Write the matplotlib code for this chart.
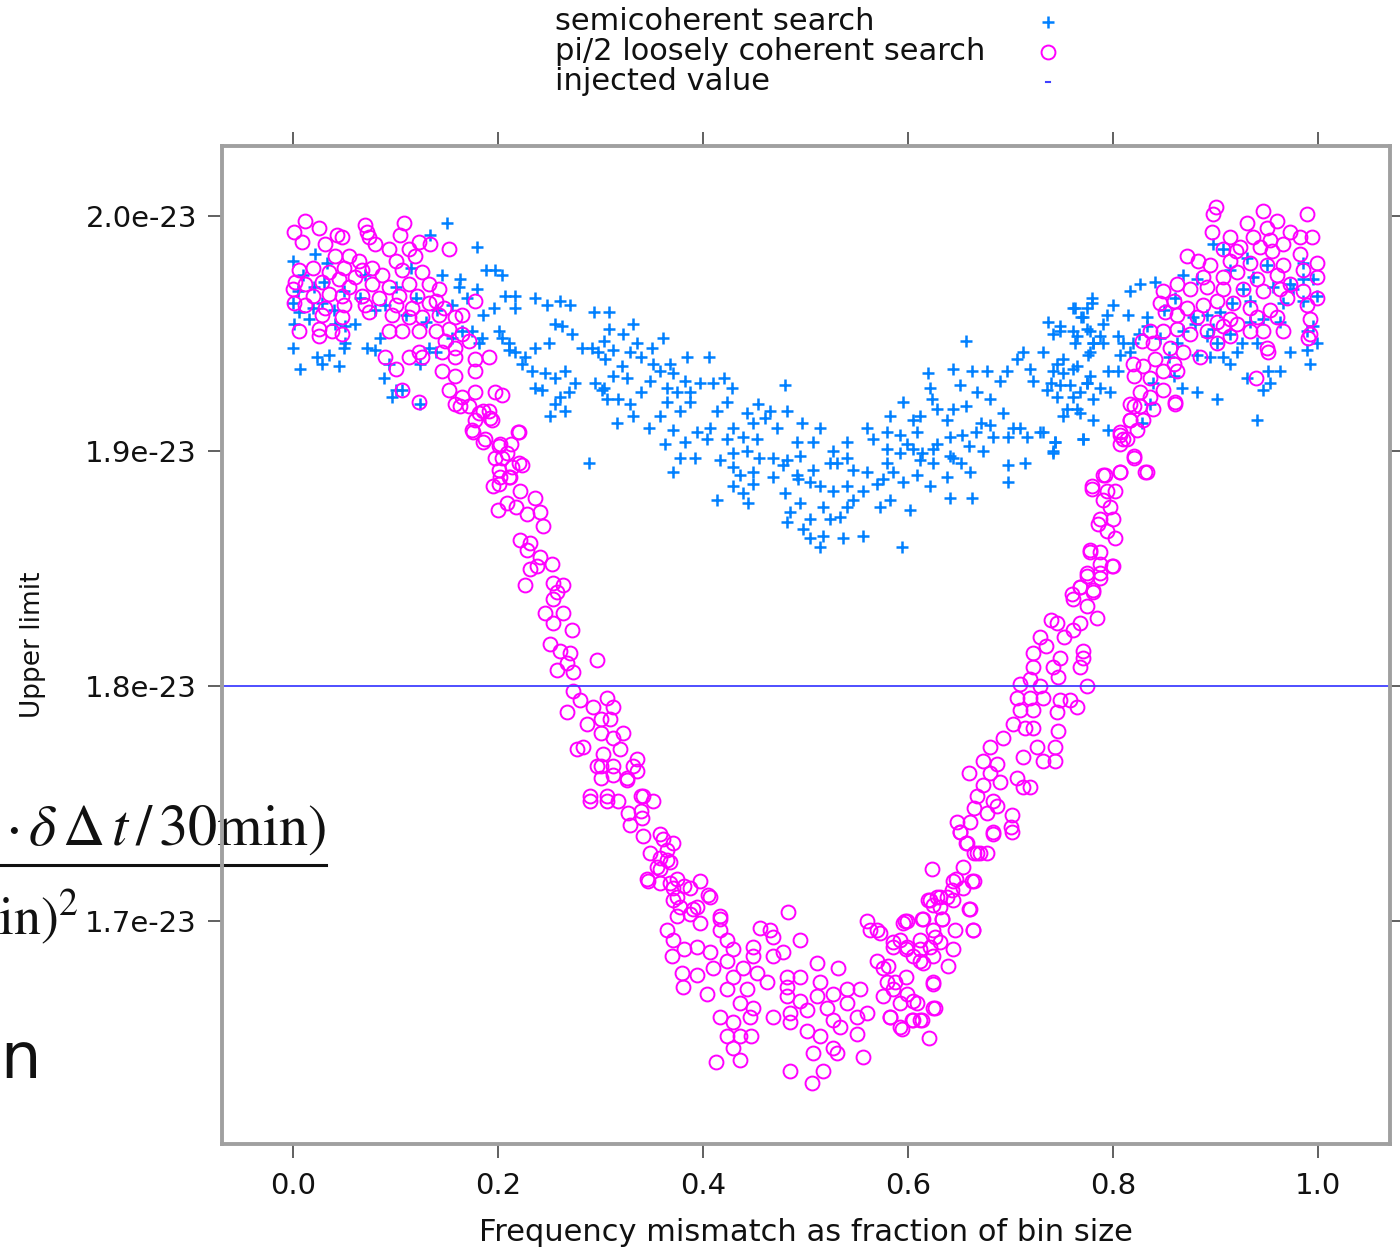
import numpy as np
import matplotlib
matplotlib.use("Agg")
import matplotlib.pyplot as plt
from matplotlib.lines import Line2D
from matplotlib.ticker import FuncFormatter

plt.rcParams['font.family'] = ['DejaVu Sans']
plt.rcParams['mathtext.fontset'] = 'stix'

# semicoherent search: x = mismatch fraction, y in units of 1e-23
semi_x = [
    0.000, 0.000, 0.001, 0.000, 0.007, 0.006, 0.016, 0.019, 0.021, 0.028,
    0.023, 0.028, 0.035, 0.045, 0.041, 0.051, 0.060, 0.051, 0.050, 0.072,
    0.080, 0.085, 0.089, 0.094, 0.100, 0.106, 0.097, 0.124, 0.124, 0.134,
    0.150, 0.010, 0.030, 0.050, 0.065, 0.080, 0.100, 0.110, 0.120, 0.140,
    0.020, 0.040, 0.070, 0.090, 0.130, 0.145, 0.005, 0.033, 0.115, 0.133,
    0.139, 0.155, 0.165, 0.175, 0.181, 0.184, 0.201, 0.204, 0.211, 0.211,
    0.179, 0.188, 0.197, 0.204, 0.163, 0.162, 0.179, 0.207, 0.217, 0.236,
    0.260, 0.270, 0.196, 0.217, 0.248, 0.294, 0.217, 0.226, 0.236, 0.250,
    0.256, 0.262, 0.272, 0.282, 0.292, 0.298, 0.223, 0.233, 0.246, 0.256,
    0.265, 0.275, 0.295, 0.301, 0.236, 0.243, 0.260, 0.269, 0.265, 0.256,
    0.251, 0.289, 0.170, 0.185, 0.155, 0.308, 0.332, 0.322, 0.308, 0.303,
    0.336, 0.361, 0.350, 0.312, 0.329, 0.339, 0.304, 0.321, 0.351, 0.368,
    0.384, 0.406, 0.358, 0.371, 0.312, 0.326, 0.348, 0.382, 0.397, 0.410,
    0.420, 0.428, 0.480, 0.303, 0.387, 0.365, 0.375, 0.339, 0.306, 0.317,
    0.365, 0.387, 0.329, 0.423, 0.454, 0.482, 0.332, 0.358, 0.378, 0.414,
    0.443, 0.465, 0.316, 0.347, 0.371, 0.394, 0.407, 0.429, 0.449, 0.460,
    0.497, 0.514, 0.423, 0.439, 0.453, 0.472, 0.492, 0.507, 0.540, 0.560,
    0.363, 0.382, 0.404, 0.378, 0.392, 0.417, 0.429, 0.443, 0.455, 0.468,
    0.482, 0.495, 0.527, 0.540, 0.531, 0.371, 0.429, 0.436, 0.449, 0.468,
    0.478, 0.492, 0.507, 0.524, 0.546, 0.560, 0.414, 0.444, 0.429, 0.439,
    0.449, 0.480, 0.493, 0.504, 0.514, 0.527, 0.540, 0.556, 0.485, 0.495,
    0.504, 0.517, 0.524, 0.534, 0.540, 0.546, 0.482, 0.498, 0.504, 0.517,
    0.537, 0.556, 0.514, 0.573, 0.582, 0.594, 0.602, 0.570, 0.576, 0.585,
    0.595, 0.609, 0.621, 0.641, 0.662, 0.612, 0.624, 0.638, 0.644, 0.652,
    0.660, 0.579, 0.592, 0.579, 0.599, 0.605, 0.614, 0.624, 0.641, 0.659,
    0.673, 0.566, 0.579, 0.592, 0.609, 0.628, 0.641, 0.653, 0.666, 0.683,
    0.698, 0.716, 0.732, 0.743, 0.741, 0.714, 0.698, 0.698, 0.771, 0.582,
    0.595, 0.605, 0.612, 0.623, 0.628, 0.638, 0.644, 0.657, 0.671, 0.680,
    0.693, 0.702, 0.709, 0.729, 0.619, 0.621, 0.644, 0.651, 0.657, 0.662,
    0.677, 0.667, 0.680, 0.690, 0.697, 0.706, 0.712, 0.719, 0.722, 0.732,
    0.736, 0.741, 0.751, 0.761, 0.748, 0.761, 0.775, 0.780, 0.755, 0.768,
    0.737, 0.748, 0.761, 0.769, 0.765, 0.778, 0.780, 0.776, 0.779, 0.817,
    0.826, 0.841, 0.779, 0.763, 0.775, 0.771, 0.794, 0.790, 0.748, 0.741,
    0.761, 0.775, 0.787, 0.763, 0.780, 0.790, 0.805, 0.810, 0.819, 0.833,
    0.833, 0.778, 0.807, 0.817, 0.745, 0.751, 0.765, 0.778, 0.795, 0.805,
    0.739, 0.758, 0.775, 0.787, 0.797, 0.745, 0.768, 0.751, 0.765, 0.780,
    0.795, 0.743, 0.771, 0.741, 0.828, 0.836, 0.839, 0.859, 0.867, 0.882,
    0.901, 0.940, 0.931, 0.946, 0.953, 0.963, 0.951, 0.973, 0.989, 0.992,
    0.999, 0.995, 0.989, 0.914, 0.907, 0.895, 0.882, 0.926, 0.940, 0.921,
    0.901, 0.892, 0.862, 0.868, 0.880, 0.898, 0.914, 0.934, 0.946, 0.963,
    0.966, 0.976, 0.985, 0.973, 0.956, 0.916, 0.904, 0.892, 0.878, 0.868,
    0.882, 0.898, 0.907, 0.914, 0.931, 0.937, 0.950, 0.985, 0.995, 0.999,
    0.985, 0.927, 0.934, 0.850, 0.860, 0.846, 0.855, 0.825, 0.815, 0.800,
]
semi_y = [
    1.981, 1.963, 1.954, 1.944, 1.935, 1.959, 1.956, 1.961, 1.984, 1.963,
    1.940, 1.937, 1.941, 1.936, 1.954, 1.953, 1.954, 1.946, 1.944, 1.944,
    1.943, 1.948, 1.931, 1.937, 1.926, 1.926, 1.923, 1.920, 1.937, 1.992,
    1.997, 1.975, 1.972, 1.968, 1.965, 1.960, 1.970, 1.958, 1.965, 1.960,
    1.970, 1.960, 1.975, 1.962, 1.955, 1.975, 1.968, 1.980, 1.978, 1.944,
    1.942, 1.948, 1.951, 1.951, 1.946, 1.948, 1.951, 1.948, 1.946, 1.943,
    1.987, 1.977, 1.977, 1.975, 1.973, 1.970, 1.969, 1.966, 1.966, 1.965,
    1.964, 1.962, 1.961, 1.961, 1.962, 1.959, 1.942, 1.940, 1.944, 1.946,
    1.954, 1.953, 1.950, 1.944, 1.944, 1.942, 1.937, 1.934, 1.933, 1.931,
    1.934, 1.929, 1.929, 1.926, 1.927, 1.926, 1.923, 1.925, 1.917, 1.920,
    1.915, 1.895, 1.965, 1.958, 1.962, 1.959, 1.954, 1.950, 1.952, 1.947,
    1.946, 1.948, 1.944, 1.943, 1.942, 1.940, 1.939, 1.936, 1.937, 1.937,
    1.940, 1.940, 1.934, 1.933, 1.932, 1.931, 1.930, 1.930, 1.929, 1.929,
    1.931, 1.927, 1.928, 1.927, 1.925, 1.927, 1.925, 1.925, 1.922, 1.922,
    1.921, 1.921, 1.920, 1.921, 1.920, 1.917, 1.915, 1.915, 1.917, 1.917,
    1.916, 1.917, 1.912, 1.910, 1.909, 1.908, 1.910, 1.910, 1.912, 1.914,
    1.912, 1.910, 1.905, 1.906, 1.905, 1.910, 1.904, 1.904, 1.904, 1.910,
    1.903, 1.904, 1.905, 1.897, 1.897, 1.896, 1.899, 1.900, 1.897, 1.897,
    1.896, 1.898, 1.900, 1.897, 1.895, 1.891, 1.893, 1.890, 1.891, 1.889,
    1.894, 1.890, 1.892, 1.895, 1.892, 1.891, 1.879, 1.878, 1.885, 1.882,
    1.886, 1.882, 1.888, 1.887, 1.885, 1.883, 1.885, 1.883, 1.874, 1.878,
    1.871, 1.876, 1.871, 1.872, 1.876, 1.879, 1.870, 1.867, 1.863, 1.864,
    1.863, 1.864, 1.859, 1.876, 1.879, 1.859, 1.875, 1.886, 1.888, 1.891,
    1.887, 1.890, 1.885, 1.880, 1.880, 1.896, 1.895, 1.889, 1.897, 1.895,
    1.891, 1.895, 1.899, 1.901, 1.903, 1.901, 1.899, 1.901, 1.898, 1.902,
    1.900, 1.905, 1.908, 1.907, 1.908, 1.903, 1.906, 1.907, 1.908, 1.906,
    1.906, 1.906, 1.908, 1.904, 1.899, 1.895, 1.894, 1.887, 1.905, 1.915,
    1.921, 1.913, 1.915, 1.922, 1.918, 1.913, 1.918, 1.919, 1.912, 1.911,
    1.916, 1.910, 1.910, 1.908, 1.933, 1.927, 1.935, 1.928, 1.947, 1.934,
    1.934, 1.925, 1.922, 1.930, 1.934, 1.939, 1.942, 1.935, 1.930, 1.942,
    1.926, 1.934, 1.939, 1.935, 1.928, 1.923, 1.929, 1.922, 1.918, 1.916,
    1.955, 1.951, 1.961, 1.957, 1.949, 1.951, 1.946, 1.941, 1.963, 1.968,
    1.971, 1.972, 1.965, 1.961, 1.961, 1.957, 1.958, 1.954, 1.953, 1.950,
    1.951, 1.952, 1.949, 1.946, 1.946, 1.946, 1.949, 1.946, 1.946, 1.957,
    1.953, 1.942, 1.941, 1.942, 1.937, 1.933, 1.936, 1.932, 1.934, 1.934,
    1.929, 1.928, 1.929, 1.927, 1.925, 1.923, 1.925, 1.915, 1.918, 1.913,
    1.909, 1.904, 1.905, 1.900, 1.912, 1.920, 1.929, 1.932, 1.927, 1.925,
    1.922, 1.913, 1.931, 1.926, 1.929, 1.934, 1.934, 1.942, 1.943, 1.937,
    1.946, 1.953, 1.951, 1.937, 1.940, 1.940, 1.941, 1.946, 1.946, 1.942,
    1.946, 1.949, 1.946, 1.951, 1.954, 1.952, 1.950, 1.955, 1.956, 1.955,
    1.963, 1.969, 1.973, 1.971, 1.970, 1.963, 1.959, 1.958, 1.957, 1.975,
    1.973, 1.988, 1.986, 1.977, 1.982, 1.974, 1.979, 1.980, 1.973, 1.966,
    1.964, 1.969, 1.964, 1.960, 1.965, 1.948, 1.940, 1.950, 1.958, 1.962,
]

# pi/2 loosely coherent search
loose_x = [
    0.012, 0.001, 0.025, 0.009, 0.043, 0.048, 0.070, 0.072, 0.074, 0.108,
    0.104, 0.123, 0.134, 0.152, 0.080, 0.031, 0.094, 0.113, 0.041, 0.055,
    0.064, 0.100, 0.119, 0.006, 0.019, 0.035, 0.050, 0.067, 0.077, 0.087,
    0.106, 0.126, 0.002, 0.012, 0.028, 0.045, 0.060, 0.055, 0.077, 0.094,
    0.113, 0.133, 0.142, 0.000, 0.019, 0.035, 0.048, 0.067, 0.084, 0.103,
    0.121, 0.139, 0.001, 0.012, 0.031, 0.050, 0.070, 0.100, 0.116, 0.133,
    0.147, 0.178, 0.028, 0.048, 0.074, 0.097, 0.113, 0.126, 0.142, 0.158,
    0.165, 0.006, 0.025, 0.038, 0.048, 0.025, 0.094, 0.106, 0.123, 0.139,
    0.152, 0.165, 0.148, 0.158, 0.172, 0.090, 0.113, 0.100, 0.123, 0.126,
    0.145, 0.158, 0.178, 0.191, 0.145, 0.158, 0.178, 0.106, 0.123, 0.152,
    0.165, 0.178, 0.197, 0.204, 0.158, 0.172, 0.181, 0.191, 0.178, 0.194,
    0.175, 0.187, 0.219, 0.201, 0.213, 0.204, 0.220, 0.201, 0.211, 0.201,
    0.163, 0.185, 0.192, 0.176, 0.185, 0.220, 0.202, 0.209, 0.197, 0.223,
    0.214, 0.202, 0.212, 0.195, 0.221, 0.236, 0.209, 0.218, 0.200, 0.241,
    0.228, 0.244, 0.221, 0.231, 0.228, 0.241, 0.238, 0.253, 0.231, 0.226,
    0.254, 0.263, 0.258, 0.254, 0.246, 0.263, 0.254, 0.272, 0.251, 0.260,
    0.270, 0.267, 0.258, 0.273, 0.297, 0.273, 0.280, 0.267, 0.293, 0.306,
    0.312, 0.287, 0.300, 0.309, 0.277, 0.283, 0.300, 0.312, 0.322, 0.302,
    0.319, 0.336, 0.297, 0.312, 0.326, 0.336, 0.290, 0.306, 0.341, 0.290,
    0.306, 0.317, 0.339, 0.351, 0.300, 0.312, 0.332, 0.300, 0.326, 0.327,
    0.339, 0.329, 0.340, 0.341, 0.358, 0.361, 0.371, 0.348, 0.358, 0.365,
    0.355, 0.368, 0.345, 0.358, 0.371, 0.381, 0.397, 0.375, 0.405, 0.371,
    0.378, 0.394, 0.387, 0.417, 0.346, 0.365, 0.358, 0.368, 0.375, 0.387,
    0.407, 0.365, 0.375, 0.390, 0.397, 0.417, 0.371, 0.381, 0.394, 0.407,
    0.417, 0.423, 0.370, 0.379, 0.394, 0.404, 0.380, 0.410, 0.423, 0.429,
    0.456, 0.465, 0.468, 0.483, 0.495, 0.449, 0.449, 0.439, 0.429, 0.453,
    0.468, 0.478, 0.462, 0.443, 0.423, 0.436, 0.449, 0.417, 0.429, 0.446,
    0.468, 0.423, 0.436, 0.429, 0.413, 0.436, 0.447, 0.482, 0.482, 0.495,
    0.482, 0.495, 0.485, 0.501, 0.485, 0.501, 0.511, 0.514, 0.511, 0.521,
    0.527, 0.532, 0.527, 0.540, 0.540, 0.550, 0.534, 0.550, 0.514, 0.527,
    0.531, 0.507, 0.517, 0.506, 0.485, 0.556, 0.553, 0.560, 0.560, 0.563,
    0.570, 0.570, 0.576, 0.579, 0.585, 0.592, 0.598, 0.595, 0.615, 0.576,
    0.585, 0.592, 0.605, 0.582, 0.592, 0.605, 0.614, 0.624, 0.624, 0.598,
    0.612, 0.612, 0.621, 0.624, 0.631, 0.621, 0.638, 0.623, 0.654, 0.647,
    0.662, 0.658, 0.667, 0.677, 0.651, 0.683, 0.701, 0.643, 0.654, 0.619,
    0.628, 0.631, 0.644, 0.659, 0.614, 0.597, 0.633, 0.663, 0.646, 0.626,
    0.585, 0.599, 0.612, 0.644, 0.605, 0.615, 0.624, 0.639, 0.580, 0.573,
    0.587, 0.599, 0.624, 0.626, 0.609, 0.582, 0.604, 0.612, 0.594, 0.620,
    0.778, 0.787, 0.800, 0.775, 0.787, 0.768, 0.761, 0.780, 0.775, 0.784,
    0.768, 0.739, 0.745, 0.729, 0.752, 0.761, 0.735, 0.748, 0.771, 0.771,
    0.722, 0.722, 0.768, 0.741, 0.746, 0.709, 0.719, 0.729, 0.775, 0.706,
    0.719, 0.732, 0.748, 0.758, 0.765, 0.709, 0.722, 0.745, 0.702, 0.714,
    0.722, 0.746, 0.693, 0.680, 0.726, 0.743, 0.712, 0.732, 0.743, 0.673,
    0.687, 0.659, 0.680, 0.690, 0.673, 0.706, 0.712, 0.719, 0.667, 0.683,
    0.664, 0.677, 0.687, 0.648, 0.660, 0.701, 0.700, 0.651, 0.683, 0.657,
    0.664, 0.670, 0.644, 0.664, 0.631, 0.624, 0.660, 0.599, 0.633, 0.663,
    0.817, 0.826, 0.839, 0.860, 0.817, 0.823, 0.807, 0.814, 0.807, 0.820,
    0.831, 0.792, 0.807, 0.779, 0.794, 0.802, 0.790, 0.797, 0.787, 0.800,
    0.785, 0.794, 0.802, 0.778, 0.787, 0.799, 0.775, 0.787, 0.768, 0.780,
    0.760, 0.900, 0.898, 0.946, 0.960, 0.989, 0.931, 0.950, 0.897, 0.914,
    0.937, 0.953, 0.973, 0.982, 0.994, 0.872, 0.883, 0.907, 0.924, 0.943,
    0.966, 0.982, 0.999, 0.895, 0.914, 0.934, 0.950, 0.966, 0.985, 0.999,
    0.888, 0.907, 0.921, 0.940, 0.960, 0.973, 0.862, 0.875, 0.892, 0.907,
    0.927, 0.946, 0.963, 0.985, 0.999, 0.849, 0.846, 0.859, 0.872, 0.888,
    0.901, 0.917, 0.934, 0.953, 0.989, 0.851, 0.862, 0.882, 0.901, 0.914,
    0.940, 0.960, 0.992, 0.992, 0.836, 0.849, 0.862, 0.875, 0.892, 0.907,
    0.921, 0.934, 0.946, 0.966, 0.828, 0.839, 0.856, 0.868, 0.885, 0.901,
    0.914, 0.950, 0.951, 0.819, 0.829, 0.841, 0.859, 0.820, 0.836, 0.849,
    0.862, 0.939, 0.849, 0.826, 0.836, 0.860, 0.820, 0.817, 0.829, 0.807,
    0.810, 0.820, 0.833, 0.790, 0.807, 0.779, 0.990, 0.970, 0.920, 0.955,
]
loose_y = [
    1.998, 1.993, 1.995, 1.989, 1.992, 1.991, 1.996, 1.993, 1.991, 1.997,
    1.992, 1.989, 1.988, 1.986, 1.988, 1.988, 1.986, 1.986, 1.983, 1.983,
    1.981, 1.981, 1.983, 1.977, 1.978, 1.976, 1.978, 1.977, 1.978, 1.975,
    1.977, 1.976, 1.972, 1.971, 1.972, 1.973, 1.974, 1.970, 1.971, 1.970,
    1.971, 1.971, 1.969, 1.969, 1.966, 1.967, 1.966, 1.966, 1.965, 1.966,
    1.966, 1.964, 1.963, 1.962, 1.961, 1.962, 1.962, 1.962, 1.961, 1.963,
    1.961, 1.964, 1.958, 1.957, 1.959, 1.958, 1.957, 1.957, 1.958, 1.957,
    1.958, 1.951, 1.952, 1.951, 1.950, 1.949, 1.951, 1.951, 1.951, 1.951,
    1.952, 1.950, 1.947, 1.944, 1.947, 1.940, 1.940, 1.935, 1.942, 1.940,
    1.942, 1.940, 1.939, 1.940, 1.934, 1.932, 1.934, 1.926, 1.921, 1.926,
    1.923, 1.925, 1.925, 1.924, 1.920, 1.919, 1.916, 1.917, 1.913, 1.913,
    1.909, 1.905, 1.908, 1.902, 1.903, 1.897, 1.895, 1.892, 1.889, 1.886,
    1.919, 1.917, 1.914, 1.908, 1.904, 1.908, 1.903, 1.899, 1.897, 1.894,
    1.893, 1.889, 1.889, 1.885, 1.883, 1.880, 1.878, 1.876, 1.875, 1.874,
    1.873, 1.868, 1.862, 1.861, 1.858, 1.855, 1.851, 1.852, 1.850, 1.843,
    1.844, 1.843, 1.840, 1.837, 1.831, 1.831, 1.827, 1.824, 1.818, 1.815,
    1.814, 1.810, 1.807, 1.806, 1.811, 1.798, 1.794, 1.789, 1.791, 1.795,
    1.791, 1.784, 1.786, 1.786, 1.773, 1.774, 1.780, 1.778, 1.780, 1.771,
    1.773, 1.769, 1.766, 1.762, 1.760, 1.764, 1.753, 1.753, 1.753, 1.751,
    1.751, 1.751, 1.753, 1.751, 1.766, 1.766, 1.766, 1.761, 1.761, 1.746,
    1.747, 1.741, 1.744, 1.736, 1.737, 1.735, 1.733, 1.729, 1.727, 1.730,
    1.723, 1.725, 1.718, 1.716, 1.714, 1.715, 1.717, 1.718, 1.711, 1.709,
    1.706, 1.706, 1.703, 1.702, 1.717, 1.726, 1.722, 1.716, 1.710, 1.714,
    1.710, 1.696, 1.702, 1.705, 1.699, 1.701, 1.692, 1.688, 1.689, 1.687,
    1.696, 1.692, 1.685, 1.678, 1.677, 1.669, 1.672, 1.680, 1.683, 1.688,
    1.697, 1.696, 1.693, 1.704, 1.692, 1.689, 1.685, 1.680, 1.676, 1.678,
    1.685, 1.687, 1.674, 1.671, 1.671, 1.665, 1.663, 1.659, 1.657, 1.659,
    1.659, 1.651, 1.651, 1.646, 1.640, 1.641, 1.651, 1.676, 1.672, 1.676,
    1.668, 1.666, 1.661, 1.662, 1.657, 1.653, 1.682, 1.674, 1.668, 1.663,
    1.669, 1.680, 1.658, 1.671, 1.665, 1.659, 1.655, 1.652, 1.651, 1.646,
    1.644, 1.644, 1.636, 1.631, 1.636, 1.642, 1.671, 1.661, 1.700, 1.696,
    1.696, 1.683, 1.680, 1.674, 1.691, 1.692, 1.688, 1.699, 1.701, 1.668,
    1.671, 1.665, 1.666, 1.659, 1.655, 1.658, 1.658, 1.663, 1.674, 1.676,
    1.683, 1.688, 1.689, 1.696, 1.691, 1.709, 1.710, 1.722, 1.723, 1.718,
    1.717, 1.733, 1.729, 1.729, 1.738, 1.737, 1.738, 1.713, 1.714, 1.709,
    1.710, 1.706, 1.709, 1.705, 1.701, 1.700, 1.701, 1.696, 1.696, 1.693,
    1.689, 1.689, 1.692, 1.688, 1.685, 1.682, 1.685, 1.681, 1.681, 1.695,
    1.674, 1.669, 1.673, 1.663, 1.665, 1.659, 1.658, 1.658, 1.654, 1.650,
    1.857, 1.852, 1.851, 1.847, 1.846, 1.842, 1.837, 1.840, 1.834, 1.829,
    1.827, 1.828, 1.827, 1.821, 1.821, 1.824, 1.817, 1.812, 1.815, 1.812,
    1.814, 1.808, 1.808, 1.808, 1.804, 1.801, 1.803, 1.800, 1.800, 1.795,
    1.795, 1.795, 1.794, 1.794, 1.791, 1.790, 1.790, 1.789, 1.784, 1.782,
    1.782, 1.781, 1.778, 1.774, 1.774, 1.774, 1.770, 1.768, 1.768, 1.768,
    1.767, 1.763, 1.763, 1.759, 1.758, 1.761, 1.757, 1.757, 1.753, 1.751,
    1.748, 1.746, 1.749, 1.742, 1.742, 1.745, 1.740, 1.738, 1.738, 1.733,
    1.729, 1.729, 1.717, 1.717, 1.710, 1.707, 1.705, 1.700, 1.701, 1.696,
    1.920, 1.919, 1.918, 1.920, 1.913, 1.909, 1.908, 1.905, 1.903, 1.897,
    1.891, 1.890, 1.891, 1.884, 1.883, 1.883, 1.879, 1.876, 1.871, 1.871,
    1.869, 1.866, 1.863, 1.858, 1.857, 1.851, 1.848, 1.848, 1.842, 1.841,
    1.839, 2.004, 2.001, 2.002, 1.998, 2.001, 1.997, 1.995, 1.993, 1.991,
    1.991, 1.990, 1.993, 1.991, 1.991, 1.983, 1.981, 1.986, 1.987, 1.987,
    1.988, 1.984, 1.980, 1.979, 1.981, 1.980, 1.979, 1.979, 1.977, 1.974,
    1.974, 1.974, 1.976, 1.973, 1.975, 1.971, 1.971, 1.969, 1.970, 1.969,
    1.969, 1.968, 1.969, 1.968, 1.965, 1.968, 1.963, 1.964, 1.961, 1.962,
    1.964, 1.963, 1.961, 1.960, 1.962, 1.959, 1.958, 1.957, 1.955, 1.956,
    1.957, 1.957, 1.956, 1.950, 1.951, 1.951, 1.952, 1.950, 1.951, 1.953,
    1.954, 1.951, 1.951, 1.951, 1.947, 1.946, 1.944, 1.942, 1.940, 1.946,
    1.949, 1.944, 1.942, 1.937, 1.936, 1.939, 1.937, 1.932, 1.931, 1.934,
    1.934, 1.931, 1.926, 1.925, 1.923, 1.921, 1.919, 1.913, 1.913, 1.907,
    1.905, 1.898, 1.891, 1.890, 1.891, 1.885, 1.948, 1.965, 1.985, 1.985,
]

injected = 1.8
y_ticks = [1.7, 1.8, 1.9, 2.0]
x_ticks = [0.0, 0.2, 0.4, 0.6, 0.8, 1.0]

scale = 1e-23
semi_col = '#0080ff'
loose_col = '#ff00ff'
line_col = '#4040ff'
frame_col = '#a0a0a0'
txt_col = '#111111'

fig = plt.figure(figsize=(14, 12.48), dpi=100)
ax = fig.add_axes([222 / 1400, 104 / 1248, 1168 / 1400, 998 / 1248])
ax.patch.set_alpha(0)

ax.plot(semi_x, np.array(semi_y) * scale, linestyle='none', marker='+',
        color=semi_col, markersize=9, markeredgewidth=1.8)
ax.plot(loose_x, np.array(loose_y) * scale, linestyle='none', marker='o',
        markerfacecolor='none', markeredgecolor=loose_col, markersize=10,
        markeredgewidth=1.4)
ax.axhline(injected * scale, color=line_col, linewidth=1.3)

ax.set_xlim(-0.0693, 1.0702)
ax.set_ylim(1.6051 * scale, 2.0298 * scale)
ax.set_xticks(x_ticks)
ax.set_yticks([v * scale for v in y_ticks])
ax.xaxis.set_major_formatter(FuncFormatter(lambda v, p: f"{v:.1f}"))
ax.yaxis.set_major_formatter(FuncFormatter(lambda v, p: f"{v / scale:.1f}e-23"))
ax.tick_params(direction='out', length=10, width=1.4, color='#606060',
               top=True, right=True, labelsize=21, pad=8, labelcolor=txt_col)
ax.tick_params(axis='x', pad=10)

for s in ax.spines.values():
    s.set_color(frame_col)
    s.set_linewidth(2.8)

ax.set_xlabel('Frequency mismatch as fraction of bin size', fontsize=22,
              labelpad=13, color=txt_col)
fig.text(33 / 1400, 1 - 645 / 1248, 'Upper limit', rotation=90, fontsize=19,
         ha='center', va='center', color=txt_col)

# key above the panel
key_labels = ['semicoherent search', 'pi/2 loosely coherent search', 'injected value']
key_y = [1 - 22 / 1248, 1 - 52 / 1248, 1 - 82 / 1248]
for lab, yy in zip(key_labels, key_y):
    fig.text(555 / 1400, yy, lab, fontsize=22, ha='left', va='center', color=txt_col)
fig.add_artist(Line2D([1048 / 1400], [key_y[0]], marker='+', color=semi_col,
                      markersize=9, markeredgewidth=1.8, linestyle='none'))
fig.add_artist(Line2D([1048 / 1400], [key_y[1]], marker='o', markerfacecolor='none',
                      markeredgecolor=loose_col, markersize=10, markeredgewidth=1.4,
                      linestyle='none'))
fig.add_artist(Line2D([1046 / 1400, 1050 / 1400], [key_y[2], key_y[2]],
                      color=line_col, linewidth=1.5))

# fragments of a slide showing at the left edge
fig.text(326 / 1400, 1 - 845 / 1248,
         r'$\cdot\,\delta\,\Delta\,t\,/\,30\mathrm{min})$',
         fontsize=42, ha='right', va='baseline', color=txt_col, zorder=-1)
fig.add_artist(Line2D([0, 326 / 1400], [1 - 865 / 1248] * 2, color=txt_col,
                      linewidth=2.2, zorder=-1))
fig.text(-2 / 1400, 1 - 935 / 1248, r'$\mathrm{in})^{2}$', fontsize=39, ha='left',
         va='baseline', color=txt_col, zorder=-1)
fig.text(0, 1 - 1078 / 1248, 'n', fontsize=46, ha='left', va='baseline',
         color=txt_col, zorder=-1)

fig.savefig('out.png', dpi=100)
